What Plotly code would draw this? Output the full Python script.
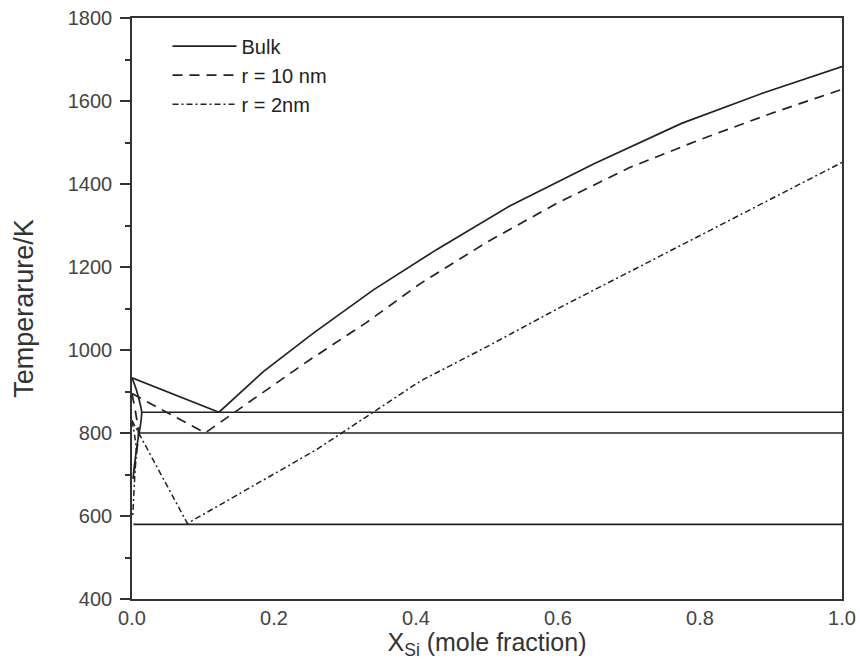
import plotly.graph_objects as go

# Liquidus curves (mole fraction Si, temperature in K)
bulk_liq_x = [0.0, 0.1225, 0.185, 0.255, 0.34, 0.43, 0.532, 0.65, 0.774, 0.89, 1.0]
bulk_liq_t = [933, 850, 948, 1040, 1145, 1243, 1347, 1448, 1546, 1620, 1683]

r10_liq_x = [0.0, 0.103, 0.157, 0.25, 0.33, 0.406, 0.5, 0.6, 0.7, 0.8, 0.9, 1.0]
r10_liq_t = [895, 800, 865, 976, 1066, 1160, 1260, 1355, 1439, 1507, 1570, 1628]

r2_liq_x = [0.0, 0.078, 0.26, 0.406, 0.5, 0.6, 0.715, 0.8, 0.9, 1.0]
r2_liq_t = [830, 582, 760, 925, 1008, 1100, 1201, 1276, 1365, 1452]

# Al-rich solidus / solvus branches
bulk_sol_x = [0.0, 0.006, 0.0115, 0.0136, 0.012, 0.008, 0.004, 0.0015]
bulk_sol_t = [933, 905, 870, 850, 820, 780, 730, 690]

r10_sol_x = [0.0, 0.005, 0.009, 0.007, 0.004, 0.002]
r10_sol_t = [895, 850, 800, 760, 720, 690]

r2_sol_x = [0.0, 0.004, 0.006, 0.004, 0.001]
r2_sol_t = [830, 790, 760, 700, 600]

# Eutectic isotherms
eut_t = [850, 800, 580]
eut_x0 = [0.0136, 0.009, 0.002]

ink = "#222222"
styles = {
    "Bulk": dict(color=ink, width=1.7, dash="solid"),
    "r = 10 nm": dict(color=ink, width=1.7, dash="10px,7px"),
    "r = 2nm": dict(color=ink, width=1.5, dash="6px,3px,2px,3px"),
}

fig = go.Figure()

for name, (lx, lt, sx, st) in {
    "Bulk": (bulk_liq_x, bulk_liq_t, bulk_sol_x, bulk_sol_t),
    "r = 10 nm": (r10_liq_x, r10_liq_t, r10_sol_x, r10_sol_t),
    "r = 2nm": (r2_liq_x, r2_liq_t, r2_sol_x, r2_sol_t),
}.items():
    fig.add_trace(go.Scatter(x=lx, y=lt, mode="lines", name=name,
                             line=styles[name], showlegend=True))
    fig.add_trace(go.Scatter(x=sx, y=st, mode="lines", line=styles[name],
                             line_shape="spline", showlegend=False, hoverinfo="skip"))

for t, x0 in zip(eut_t, eut_x0):
    fig.add_trace(go.Scatter(x=[x0, 1.0], y=[t, t], mode="lines",
                             line=dict(color=ink, width=1.7), showlegend=False))

font_family = "Liberation Sans, Arial, sans-serif"
axis_col = "#333333"

fig.update_layout(
    width=860, height=660,
    margin=dict(l=132, r=18, t=18, b=61),
    paper_bgcolor="white", plot_bgcolor="white",
    font=dict(family=font_family, size=20, color="#444444"),
    legend=dict(x=0.05, y=0.985, xanchor="left", yanchor="top",
                bgcolor="rgba(0,0,0,0)", itemwidth=64,
                font=dict(size=20, color="#222222"), tracegroupgap=0),
    xaxis=dict(range=[0, 1], dtick=0.2, tickformat=".1f", ticks="",
               automargin=False, ticklabelstandoff=0,
               showgrid=False, zeroline=False, showline=True, linecolor=axis_col,
               linewidth=1.7, mirror=True,
               title=dict(text="X<sub>Si</sub> (mole fraction)", standoff=4,
                          font=dict(size=25, color="#333333"))),
    yaxis=dict(range=[400, 1800], dtick=200, ticks="outside", ticklen=10,
               tickwidth=1.5, tickcolor=axis_col, automargin=False,
               ticklabelstandoff=4,
               minor=dict(dtick=100, ticks="outside", ticklen=5, tickwidth=1.5,
                          tickcolor=axis_col),
               showgrid=False, zeroline=False, showline=True, linecolor=axis_col,
               linewidth=1.7, mirror=True,
               title=dict(text="Temperarure/K", standoff=26,
                          font=dict(size=27, color="#333333"))),
)

fig.write_html("out.html")
